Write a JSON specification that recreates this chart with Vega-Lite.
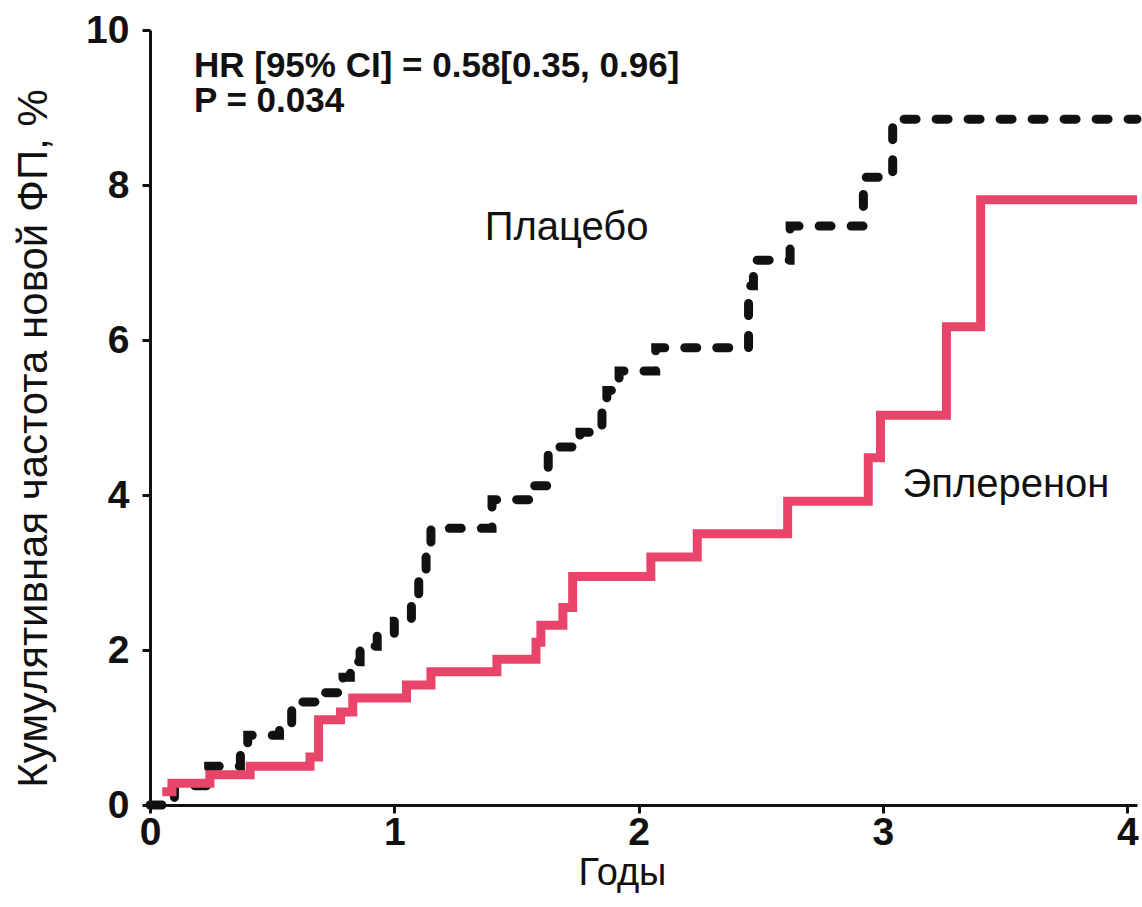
{
  "$schema": "https://vega.github.io/schema/vega-lite/v6.json",
  "width": 987,
  "height": 775,
  "autosize": {"type": "none"},
  "padding": {"left": 150, "top": 30, "right": 5, "bottom": 102},
  "background": "white",
  "datasets": {
    "placebo": [
      {"t": 0.0, "y": 0.0}, {"t": 0.1, "y": 0.25}, {"t": 0.24, "y": 0.5}, {"t": 0.37, "y": 0.65},
      {"t": 0.4, "y": 0.9}, {"t": 0.53, "y": 1.05}, {"t": 0.58, "y": 1.33}, {"t": 0.69, "y": 1.45},
      {"t": 0.79, "y": 1.65}, {"t": 0.82, "y": 1.85}, {"t": 0.86, "y": 2.05}, {"t": 0.93, "y": 2.2},
      {"t": 1.0, "y": 2.37}, {"t": 1.07, "y": 2.6}, {"t": 1.1, "y": 2.9}, {"t": 1.13, "y": 3.2},
      {"t": 1.15, "y": 3.57}, {"t": 1.4, "y": 3.94}, {"t": 1.57, "y": 4.12}, {"t": 1.63, "y": 4.62},
      {"t": 1.76, "y": 4.81}, {"t": 1.85, "y": 5.1}, {"t": 1.87, "y": 5.35}, {"t": 1.92, "y": 5.6},
      {"t": 2.07, "y": 5.9}, {"t": 2.45, "y": 6.7}, {"t": 2.47, "y": 7.03}, {"t": 2.62, "y": 7.47},
      {"t": 2.92, "y": 8.1}, {"t": 3.04, "y": 8.85}, {"t": 4.04, "y": 8.85}
    ],
    "eplerenone": [
      {"t": 0.05, "y": 0.17}, {"t": 0.09, "y": 0.28}, {"t": 0.245, "y": 0.39}, {"t": 0.41, "y": 0.5},
      {"t": 0.655, "y": 0.62}, {"t": 0.69, "y": 1.1}, {"t": 0.78, "y": 1.2}, {"t": 0.83, "y": 1.38},
      {"t": 1.05, "y": 1.55}, {"t": 1.15, "y": 1.72}, {"t": 1.42, "y": 1.88}, {"t": 1.58, "y": 2.1},
      {"t": 1.6, "y": 2.32}, {"t": 1.69, "y": 2.55}, {"t": 1.73, "y": 2.95}, {"t": 2.05, "y": 3.2},
      {"t": 2.24, "y": 3.5}, {"t": 2.61, "y": 3.92}, {"t": 2.94, "y": 4.48}, {"t": 2.99, "y": 5.03},
      {"t": 3.26, "y": 6.17}, {"t": 3.4, "y": 7.81}, {"t": 4.04, "y": 7.81}
    ],
    "labels": [
      {"t": 1.37, "y": 7.29, "text": "Плацебо"},
      {"t": 3.08, "y": 3.97, "text": "Эплеренон"}
    ],
    "stats": [
      {"t": 0.18, "y": 9.4, "text": "HR [95% CI] = 0.58[0.35, 0.96]\nP = 0.034"}
    ]
  },
  "config": {
    "view": {"stroke": null},
    "axis": {
      "grid": false,
      "domainColor": "#111111",
      "domainWidth": 3,
      "tickColor": "#111111",
      "tickWidth": 3,
      "tickSize": 8,
      "labelFont": "Liberation Sans",
      "labelFontWeight": "bold",
      "labelFontSize": 39,
      "labelColor": "#111111",
      "labelFlush": false,
      "labelOverlap": false,
      "format": "d",
      "titleFont": "Liberation Sans",
      "titleFontWeight": "normal",
      "titleColor": "#111111"
    }
  },
  "layer": [
    {
      "data": {"name": "placebo"},
      "mark": {"type": "line", "interpolate": "step-after", "color": "#111111", "strokeWidth": 9, "strokeDash": [12, 20], "strokeCap": "round"},
      "encoding": {
        "x": {
          "field": "t", "type": "quantitative",
          "scale": {"domain": [0, 4.04], "nice": false, "zero": false},
          "axis": {"values": [0, 1, 2, 3, 4], "format": "d", "labelPadding": 0, "title": "Годы", "titleFontSize": 38, "titleY": 79, "titleBaseline": "alphabetic", "titleX": 472, "titleAnchor": "middle", "titleAlign": "center"}
        },
        "y": {
          "field": "y", "type": "quantitative",
          "scale": {"domain": [0, 10], "nice": false},
          "axis": {"values": [0, 2, 4, 6, 8, 10], "format": "d", "labelPadding": 13, "title": "Кумулятивная частота новой ФП, %", "titleFontSize": 42, "titleAngle": -90, "titleX": -117, "titleY": 408, "titleAlign": "center", "titleBaseline": "middle"}
        },
        "order": {"field": "t", "type": "quantitative"}
      }
    },
    {
      "data": {"name": "eplerenone"},
      "mark": {"type": "line", "interpolate": "step-after", "color": "#e9456a", "strokeWidth": 9, "strokeCap": "butt"},
      "encoding": {
        "x": {"field": "t", "type": "quantitative"},
        "y": {"field": "y", "type": "quantitative"},
        "order": {"field": "t", "type": "quantitative"}
      }
    },
    {
      "data": {"name": "labels"},
      "mark": {"type": "text", "align": "left", "baseline": "alphabetic", "font": "Liberation Sans", "fontSize": 40, "color": "#111111"},
      "encoding": {
        "x": {"field": "t", "type": "quantitative"},
        "y": {"field": "y", "type": "quantitative"},
        "text": {"field": "text"}
      }
    },
    {
      "data": {"name": "stats"},
      "mark": {"type": "text", "align": "left", "baseline": "alphabetic", "lineBreak": "\n", "lineHeight": 35, "font": "Liberation Sans", "fontWeight": "bold", "fontSize": 35, "color": "#111111"},
      "encoding": {
        "x": {"field": "t", "type": "quantitative"},
        "y": {"field": "y", "type": "quantitative"},
        "text": {"field": "text"}
      }
    }
  ]
}
